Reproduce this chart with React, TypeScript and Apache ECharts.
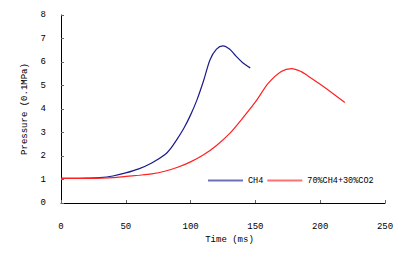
import React, { useEffect, useRef } from "react";
import * as echarts from "echarts";

const xTicks = [0, 50, 100, 150, 200, 250];
const yTicks = [0, 1, 2, 3, 4, 5, 6, 7, 8];

const ch4: [number, number][] = [
  [0, 1.05], [10, 1.05], [20, 1.06], [30, 1.08], [40, 1.15], [50, 1.28], [60, 1.45],
  [70, 1.7], [80, 2.05], [85, 2.35], [90, 2.75], [95, 3.2], [100, 3.75], [105, 4.4],
  [110, 5.2], [115, 6.1], [120, 6.55], [125, 6.69], [130, 6.55], [135, 6.25], [140, 5.98],
  [146, 5.75],
];

const mix: [number, number][] = [
  [0, 1.05], [10, 1.05], [20, 1.05], [30, 1.06], [40, 1.08], [50, 1.13], [60, 1.18],
  [70, 1.24], [80, 1.35], [90, 1.52], [100, 1.75], [110, 2.05], [120, 2.45], [130, 2.95],
  [140, 3.6], [150, 4.3], [160, 5.1], [170, 5.6], [178, 5.72], [185, 5.6], [190, 5.43],
  [200, 5.05], [210, 4.65], [219, 4.28],
];

const font = "Liberation Mono";
const fs = 9;

export default function App() {
  const ref = useRef<HTMLDivElement>(null);
  useEffect(() => {
    if (!ref.current) return;
    const chart = echarts.init(ref.current, undefined, { renderer: "svg" });
    chart.setOption({
      animation: false,
      textStyle: { fontFamily: font },
      grid: { left: 61, right: 25, top: 15, bottom: 64 },
      legend: {
        left: 203,
        top: 171,
        width: 250,
        itemWidth: 35,
        itemHeight: 2,
        itemGap: 4,
        textStyle: { fontFamily: font, fontSize: 8.5, color: "#000" },
        data: [
          {
            name: "CH4",
            icon: "rect",
            itemStyle: { color: "#7070b8" },
            lineStyle: { color: "#7070b8" },
          },
          {
            name: "70%CH4+30%CO2",
            icon: "rect",
            itemStyle: { color: "#ff7070" },
            lineStyle: { color: "#ff7070" },
          },
        ],
      },
      xAxis: {
        type: "value",
        min: xTicks[0],
        max: xTicks[xTicks.length - 1],
        interval: 50,
        name: "Time (ms)",
        nameLocation: "middle",
        nameGap: 26,
        nameTextStyle: { fontFamily: font, fontSize: fs, color: "#000", padding: [0, 0, 0, 13] },
        axisLine: { lineStyle: { color: "#000", width: 1 } },
        axisTick: { inside: true, length: 3, lineStyle: { color: "#666" } },
        axisLabel: { margin: 19, fontFamily: font, fontSize: fs, color: "#000" },
        splitLine: { show: false },
      },
      yAxis: {
        type: "value",
        min: yTicks[0],
        max: yTicks[yTicks.length - 1],
        interval: 1,
        name: "Pressure (0.1MPa)",
        nameLocation: "middle",
        nameGap: 23,
        nameTextStyle: { fontFamily: font, fontSize: fs, color: "#000" },
        axisLine: { show: true, lineStyle: { color: "#000", width: 1 } },
        axisTick: { show: true, inside: true, length: 3, lineStyle: { color: "#666" } },
        axisLabel: { margin: 15, fontFamily: font, fontSize: fs, color: "#000" },
        splitLine: { show: false },
      },
      series: [
        {
          name: "CH4",
          type: "line",
          data: ch4,
          smooth: 0.3,
          showSymbol: false,
          lineStyle: { color: "#1a1a8c", width: 1.2 },
          itemStyle: { color: "#1a1a8c" },
        },
        {
          name: "70%CH4+30%CO2",
          type: "line",
          data: mix,
          smooth: 0.3,
          showSymbol: false,
          lineStyle: { color: "#ff2020", width: 1.2 },
          itemStyle: { color: "#ff2020" },
        },
      ],
    });
    return () => chart.dispose();
  }, []);
  return (
    <div
      ref={ref}
      style={{ position: "absolute", left: 0, top: 0, width: 410, height: 267 }}
    />
  );
}
